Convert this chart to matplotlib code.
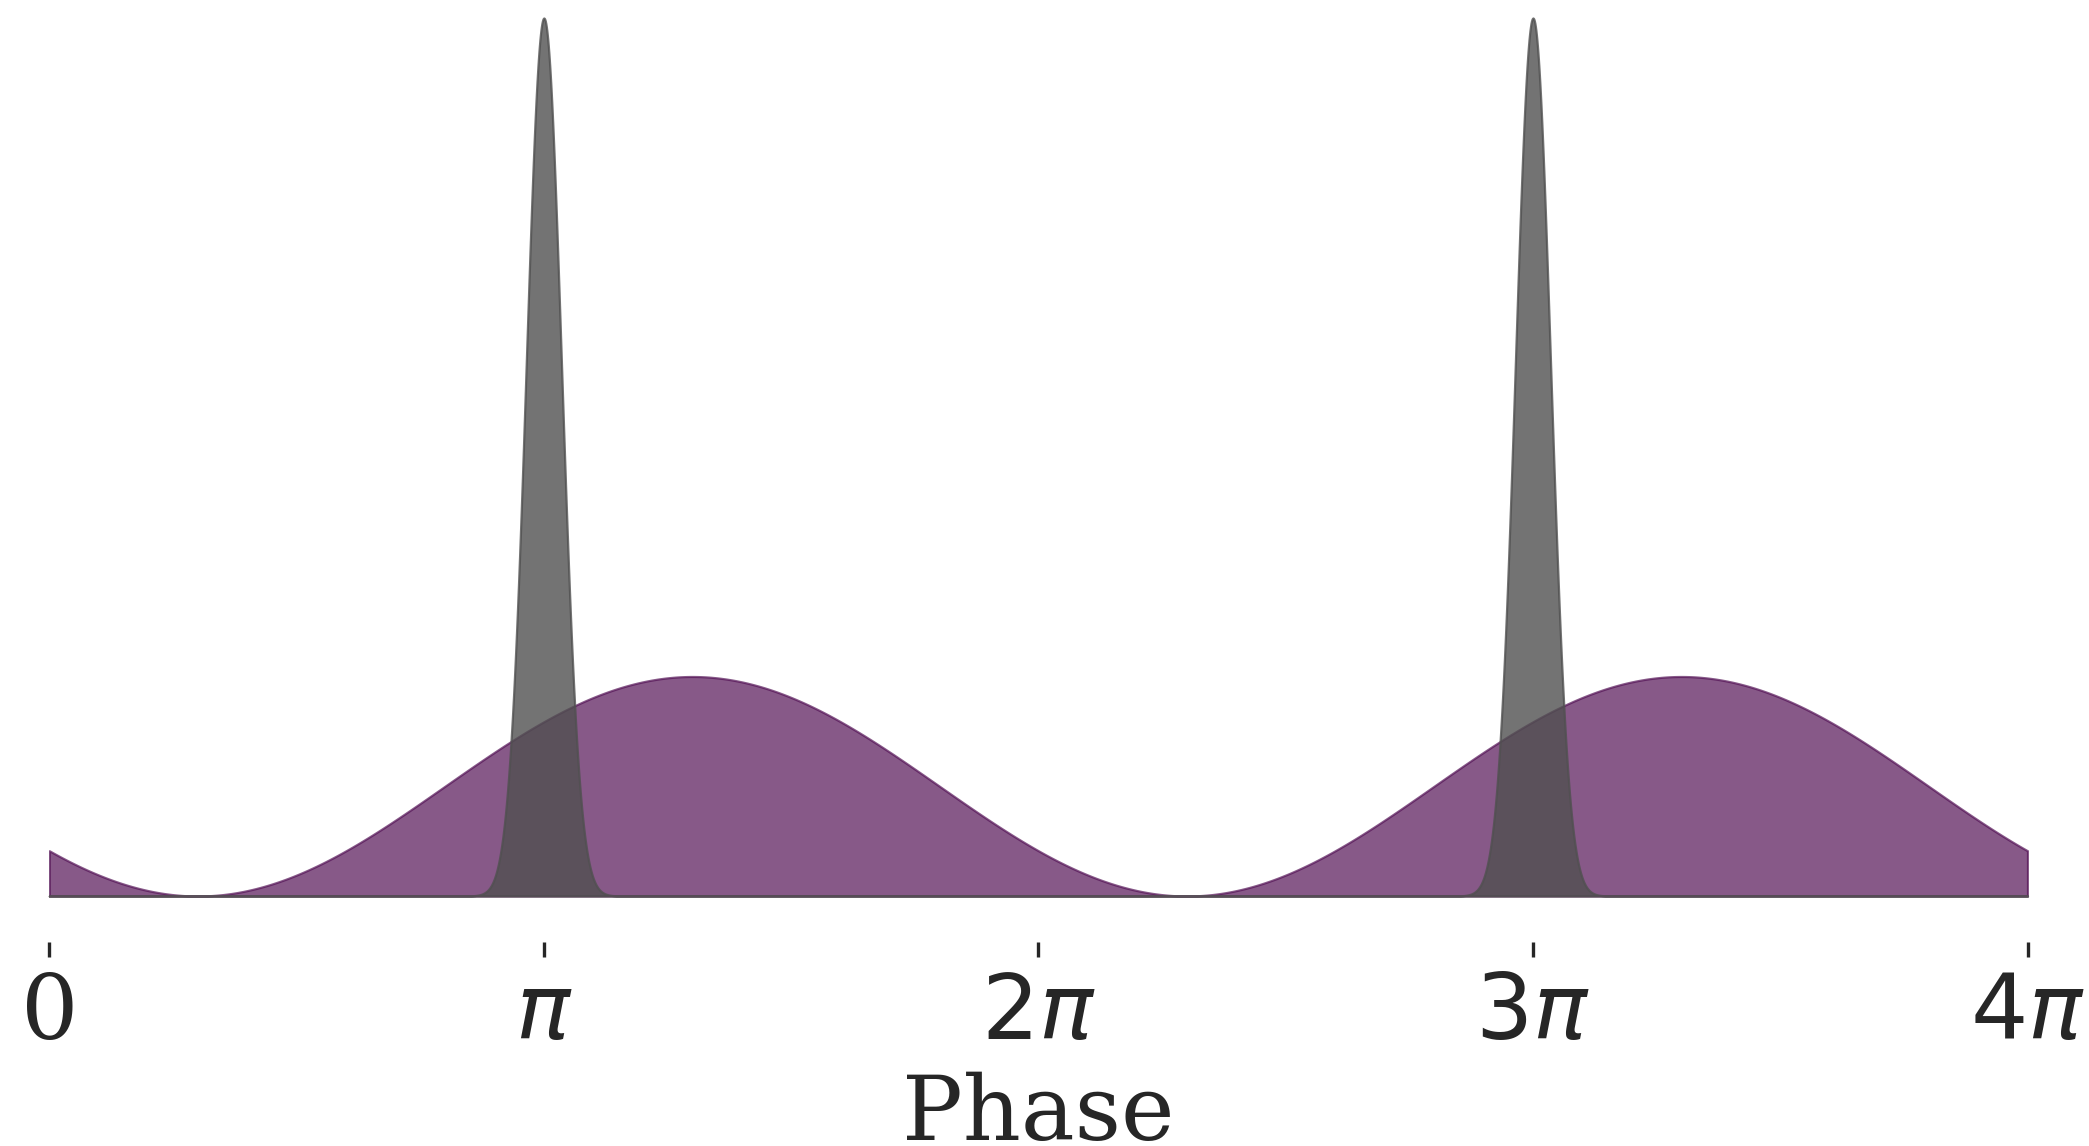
import numpy as np
from matplotlib import pyplot as plt

# spike train phase distribution: narrow von Mises bump, repeats every 2*pi
# (so it shows up at pi and 3*pi)
spike_phase = np.pi
spike_kappa = 80.0
spike_height = 1.0

# broad tuning curve (raised cosine), also 2*pi periodic
tuning_pref = 1.3 * np.pi
tuning_height = 0.25

tick_positions = [0, np.pi, 2 * np.pi, 3 * np.pi, 4 * np.pi]
tick_labels = ["0", r"$\pi$", r"$2\pi$", r"$3\pi$", r"$4\pi$"]

plt.rcParams["font.family"] = ["DejaVu Serif"]
plt.rcParams["mathtext.fontset"] = "dejavusans"

phase = np.linspace(0, 4 * np.pi, 4001)

tuning = tuning_height * (1 + np.cos(phase - tuning_pref)) / 2
spikes = spike_height * np.exp(spike_kappa * (np.cos(phase - spike_phase) - 1))

fig = plt.figure(figsize=(2089 / 200, 1146 / 200), dpi=200)
ax = fig.add_axes([49.3 / 2089, 204 / 1146, (2027.5 - 49.3) / 2089, 924 / 1146])

ax.fill_between(phase, 0, tuning, color="#541356", alpha=0.7, lw=0.8)
ax.fill_between(phase, 0, spikes, color="#505050", alpha=0.8, lw=0.8, clip_on=False)

ax.set_xlim(0, 4 * np.pi)
ax.set_ylim(-0.0524 * spike_height, spike_height)

for side in ["top", "right", "left", "bottom"]:
    ax.spines[side].set_visible(False)

ax.set_yticks([])
ax.set_xticks(tick_positions)
ax.set_xticklabels(tick_labels)
ax.tick_params(
    axis="x",
    direction="out",
    length=5.4,
    width=1.2,
    color="#262626",
    labelcolor="#262626",
    labelsize=32.5,
    pad=5,
)
ax.set_xlabel("Phase", fontsize=32.5, color="#262626", labelpad=5)

fig.savefig("out.png", dpi=200)
plt.close(fig)
